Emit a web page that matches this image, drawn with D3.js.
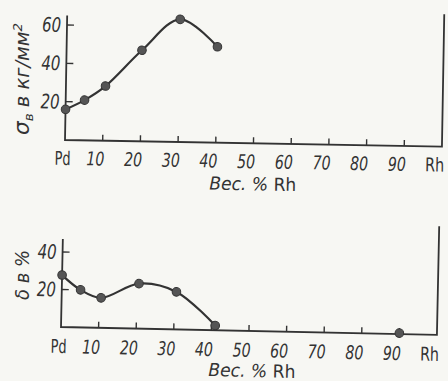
<!DOCTYPE html>
<html>
<head>
<meta charset="utf-8">
<script src="https://cdn.jsdelivr.net/npm/d3@7"></script>
<style>
  html, body { margin: 0; padding: 0; background: #f7f7f3; }
  svg { display: block; }
  text { font-family: "DejaVu Sans", sans-serif; font-stretch: condensed; fill: #333; }
</style>
</head>
<body>
<div id="chart"></div>
<script>
// x axis (both panels): weight % Rh
const xTicks = [0, 10, 20, 30, 40, 50, 60, 70, 80, 90, 100];
const xTickLabels = ["Pd", "10", "20", "30", "40", "50", "60", "70", "80", "90", "Rh"];

// top panel: tensile strength, kg/mm2
const strengthX = [0, 5, 10.5, 20, 30, 40];
const strengthY = [16, 21, 28.5, 47.5, 64, 50];
const strengthTicks = [20, 40, 60];

// bottom panel: elongation, %
const elongX = [0, 5, 10.5, 20.5, 30.5, 41];
const elongY = [27.7, 20, 16, 24, 20, 2.5];
const elongExtraX = [90];
const elongExtraY = [0.5];
const elongTicks = [20, 40];

const W = 448, H = 381;
const ink = "#333";

const svg = d3.select("#chart").append("svg")
  .attr("width", W).attr("height", H)
  .attr("viewBox", `0 0 ${W} ${H}`);

function panel(opt) {
  const g = svg.append("g")
    .attr("transform", `translate(${opt.ox},${opt.oy}) rotate(${opt.tilt})`);

  const x = d3.scaleLinear().domain([0, 100]).range([0, opt.width]);
  const y = d3.scaleLinear().domain([0, opt.yMax]).range([0, -opt.yMax * opt.yUnit]);

  // frame: left axis, baseline, right axis
  g.append("path")
    .attr("d", `M${x(0)},${y(opt.leftTop)}V0H${x(100)}V${y(opt.rightTop)}`)
    .attr("fill", "none").attr("stroke", ink).attr("stroke-width", 1.8);

  // x ticks point up
  g.selectAll(".xt").data(xTicks.slice(1, -1)).join("line")
    .attr("x1", d => x(d)).attr("x2", d => x(d))
    .attr("y1", 0).attr("y2", -6)
    .attr("stroke", ink).attr("stroke-width", 1.4);

  const last = xTicks.length - 1;
  g.selectAll(".xl").data(xTicks).join("text")
    .attr("x", (d, i) => x(d) + (i === 0 ? -2 : -7))
    .attr("y", opt.labelDy)
    .attr("text-anchor", "middle")
    .attr("font-size", "19px")
    .attr("font-style", (d, i) => (i === 0 || i === last) ? "normal" : "italic")
    .attr("textLength", (d, i) => i === 0 ? 16 : i === last ? 19 : 18)
    .attr("lengthAdjust", "spacingAndGlyphs")
    .text((d, i) => xTickLabels[i]);

  // y ticks point right
  g.selectAll(".yt").data(opt.yTicks).join("line")
    .attr("x1", 0).attr("x2", 7)
    .attr("y1", d => y(d)).attr("y2", d => y(d))
    .attr("stroke", ink).attr("stroke-width", 1.4);

  g.selectAll(".yl").data(opt.yTicks).join("text")
    .attr("x", -6).attr("y", d => y(d) + 7)
    .attr("text-anchor", "end")
    .attr("font-size", "20px")
    .attr("font-style", "italic")
    .attr("textLength", 19).attr("lengthAdjust", "spacingAndGlyphs")
    .text(d => d);

  // axis title
  const t = g.append("text")
    .attr("x", x(opt.titleAt)).attr("y", opt.titleDy)
    .attr("text-anchor", "middle")
    .attr("font-size", "18px")
    .attr("textLength", 87).attr("lengthAdjust", "spacingAndGlyphs");
  t.append("tspan").attr("font-style", "italic").text("Вес. % ");
  t.append("tspan").text("Rh");

  // curve + markers
  const pts = opt.xs.map((d, i) => [x(d), y(opt.ys[i])]);
  g.append("path")
    .attr("d", d3.line().curve(d3.curveCatmullRom.alpha(0.5))(pts))
    .attr("fill", "none").attr("stroke", ink).attr("stroke-width", 2.2);

  const marks = pts.concat(opt.extraX.map((d, i) => [x(d), y(opt.extraY[i])]));
  g.selectAll(".pt").data(marks).join("circle")
    .attr("cx", d => d[0]).attr("cy", d => d[1]).attr("r", 4.3)
    .attr("fill", "#555").attr("stroke", ink).attr("stroke-width", 1);

  return g;
}

panel({
  ox: 65, oy: 140, tilt: 1, width: 377,
  yMax: 60, yUnit: 115 / 60, yTicks: strengthTicks,
  leftTop: 65, rightTop: 69,
  xs: strengthX, ys: strengthY, extraX: [], extraY: [],
  labelDy: 25, titleAt: 50, titleDy: 47
});

panel({
  ox: 61, oy: 327, tilt: 1.2, width: 376,
  yMax: 40, yUnit: 75 / 40, yTicks: elongTicks,
  leftTop: 47, rightTop: 58,
  xs: elongX, ys: elongY, extraX: elongExtraX, extraY: elongExtraY,
  labelDy: 26, titleAt: 51, titleDy: 46
});

// rotated y titles
const yt1 = svg.append("text")
  .attr("transform", "translate(29,79) rotate(-90)")
  .attr("text-anchor", "middle")
  .attr("font-size", "19px")
  .attr("font-style", "italic")
  .attr("textLength", 112).attr("lengthAdjust", "spacingAndGlyphs");
yt1.append("tspan").attr("font-size", "21px").text("σ");
yt1.append("tspan").attr("font-size", "13px").attr("dy", 4).text("в");
yt1.append("tspan").attr("dy", -4).text(" в кг/мм");
yt1.append("tspan").attr("font-size", "13px").attr("dy", -7).text("2");

svg.append("text")
  .attr("transform", "translate(29,275) rotate(-90)")
  .attr("text-anchor", "middle")
  .attr("font-size", "19px")
  .attr("font-style", "italic")
  .attr("textLength", 50).attr("lengthAdjust", "spacingAndGlyphs")
  .text("δ в %");
</script>
</body>
</html>
